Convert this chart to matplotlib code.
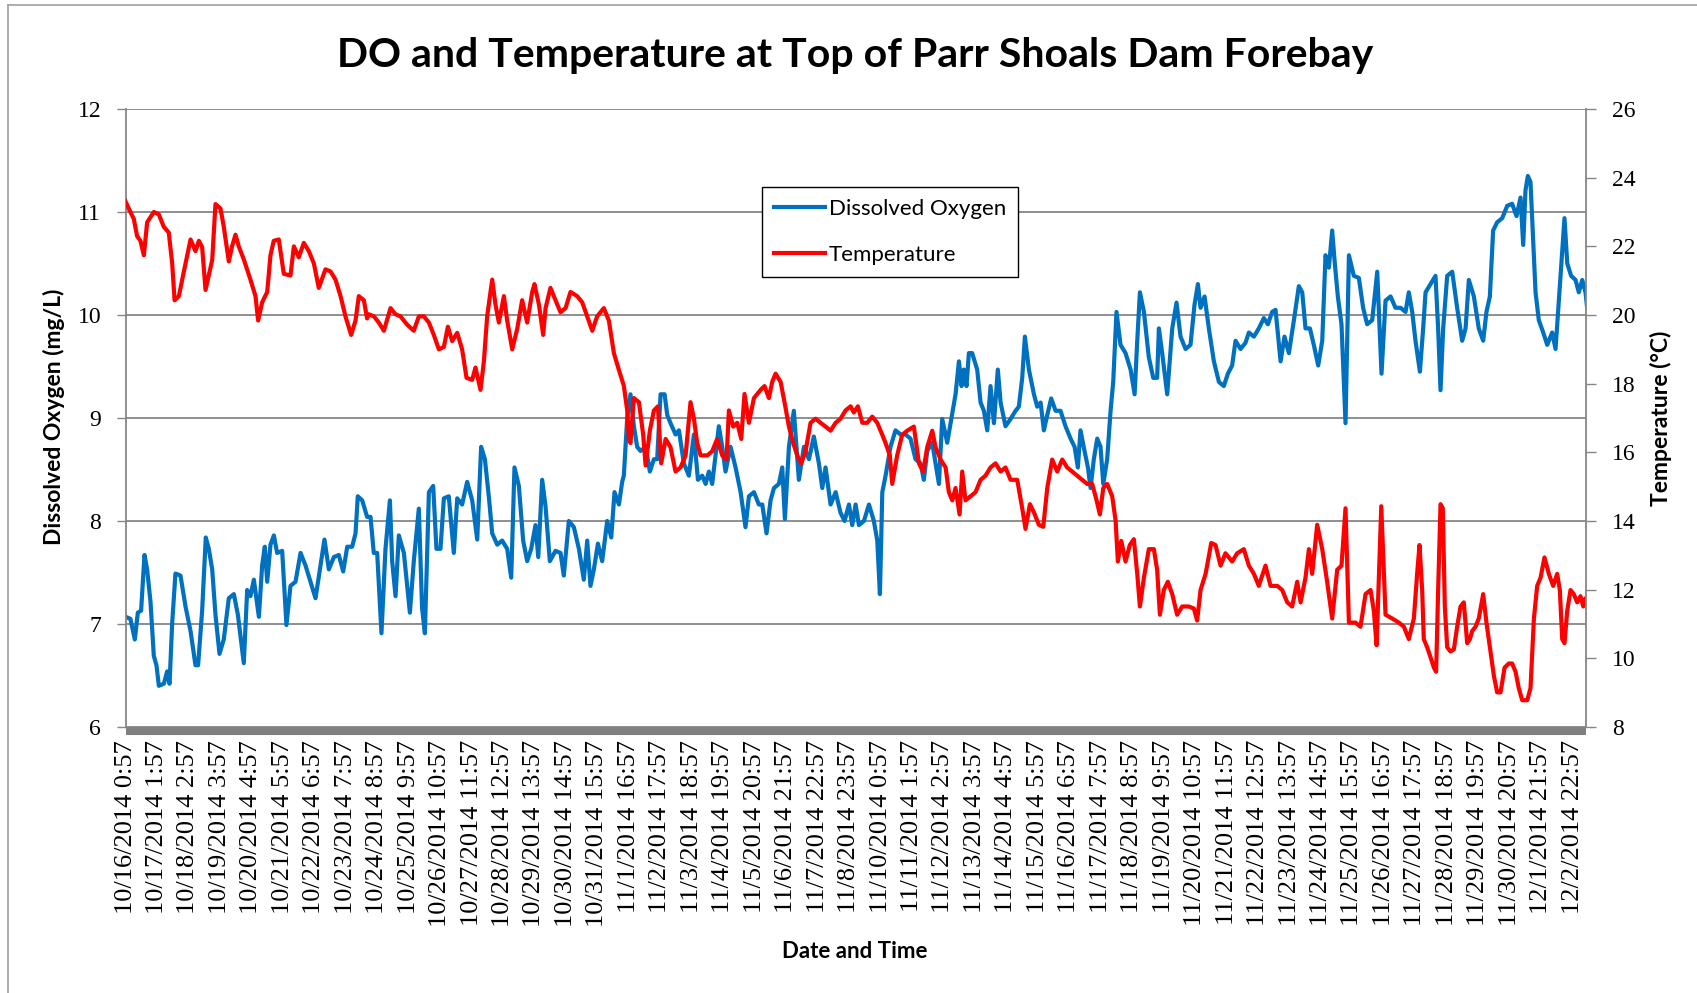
# %%
# ---------------------------------------------------------
# DO and temperature, Parr Shoals Dam forebay (hourly logger)
# ---------------------------------------------------------
import numpy as np
import matplotlib
matplotlib.use("Agg")
import matplotlib.pyplot as plt
from matplotlib.lines import Line2D

# %%
# ---------------------------------------------------------
# Values (x = hours since 10/16/2014 0:57)
# ---------------------------------------------------------
do_hours = [
    0, 3.9, 7.4, 9.8, 12.4, 15.1, 17.2, 19.9, 22.5, 24.6, 26.5, 30.5, 33.1, 35.0, 37.1,
    39.7, 43.7, 47.7, 51.7, 55.6, 57.7, 60.9, 63.8, 66.2, 68.9, 71.5, 74.7, 78.1, 82.1, 86.1,
    89.3, 94.0, 96.7, 99.3, 102.0, 106.0, 108.6, 110.7, 112.6, 115.2, 117.9, 120.5, 124.5, 127.9, 131.1,
    135.1, 139.1, 143.0, 147.0, 151.0, 155.0, 158.1, 161.6, 165.6, 169.5, 173.0, 176.2, 180.1, 182.8, 184.6,
    188.1, 192.0,
    194.7, 197.3, 200.0, 203.4, 206.6, 210.1, 211.9, 214.6, 217.2, 221.2, 226.0, 229.1, 233.1, 235.7, 237.9,
    241.1, 244.5, 247.1, 250.3, 253.0, 256.9, 260.9, 263.6, 267.5, 271.5, 275.5, 279.5, 282.6, 285.6, 288.7,
    291.4, 295.4, 299.3, 303.3, 306.5, 309.1, 312.6, 316.0, 319.2, 322.4, 325.8, 328.0, 331.1, 333.8, 337.2,
    341.7, 345.7, 348.3, 352.3, 356.3, 360.3, 364.2, 366.9, 369.5, 372.2, 375.4, 378.8, 382.8, 386.0, 388.6,
    392.1, 394.7, 396.0, 398.7,
    401.3, 404.0, 406.6, 409.3, 413.3, 416.7, 419.9, 422.5, 425.2, 428.4, 430.5, 433.1, 437.1, 439.8, 443.7,
    447.7, 451.7, 454.9, 458.3, 461.0, 463.6, 466.2, 468.9, 471.5, 474.2, 476.8, 480.8, 484.8, 488.8, 492.7,
    495.4, 499.4, 503.3, 506.0, 509.4, 512.6, 515.3, 519.2, 521.9, 524.0, 527.2, 531.1, 535.1, 539.1, 543.1,
    547.0, 551.0, 553.7, 556.3, 560.3, 564.3, 568.2, 571.4, 574.9, 577.5, 580.2, 582.8, 586.8, 590.8, 594.7,
    597.4, 599.5, 601.4, 604.0,
    607.9, 611.9, 615.9, 619.9, 623.8, 627.8, 631.8, 634.4, 637.1, 641.1, 643.7, 646.4, 649.0, 653.0, 656.2,
    659.6, 662.3, 664.4, 666.2, 668.3, 670.2, 672.8, 676.8, 679.5, 682.1, 684.8, 687.4, 690.1, 693.2, 695.4,
    699.3, 703.3, 707.3, 709.9, 712.6, 714.7, 717.9, 721.9, 724.5, 727.2, 729.8, 732.5, 735.6, 739.1, 743.0,
    747.0, 751.0, 754.2, 756.8, 758.9, 762.1, 764.8, 766.9, 769.5, 772.2, 774.8, 777.0, 780.1, 782.8, 784.9,
    787.5, 790.7, 794.7, 798.7, 801.9, 804.0, 806.1, 809.3, 813.2,
    816.7, 819.8, 821.2, 823.8, 827.8, 831.8, 835.2, 838.4, 842.4, 846.3, 849.5, 852.2, 854.3, 857.5, 860.9,
    864.9, 868.9, 872.8, 876.0, 879.4, 882.1, 886.1, 890.0, 892.7, 896.7, 900.6, 904.6, 907.8, 911.2, 913.9,
    917.9, 921.0, 924.5, 928.5, 932.4, 935.1, 937.7, 941.2, 944.3, 947.8, 951.0, 953.6, 956.3, 958.9, 961.0,
    963.4, 966.3, 969.5, 972.2, 976.1, 980.1, 983.5, 986.7, 990.7, 994.7, 998.1, 1001.3, 1005.3, 1009.2, 1013.2,
    1017.2, 1019.8,
    1022.5, 1025.1, 1028.6, 1031.2, 1033.1, 1037.0, 1041.0, 1043.1, 1045.0, 1047.1, 1050.3, 1054.3, 1058.2, 1062.2, 1064.9,
    1067.5, 1071.5, 1075.4, 1078.9, 1081.5, 1084.2, 1086.8, 1090.0, 1094.0, 1098.0, 1101.9, 1105.4, 1108.6, 1110.7, 1112.5,
    1114.4, 1116.5, 1118.4, 1120.5, 1123.1, 1126.6, 1129.8, 1133.7, 1136.4, 1140.4, 1143.5, 1145.7, 1148.8, 1152.3, 1154.9,
    1157.6, 1160.2, 1161.5,
]
do_mgl = [
    7.07, 7.05, 6.85, 7.11, 7.13, 7.67, 7.53, 7.21, 6.69, 6.60, 6.40, 6.42, 6.54, 6.42, 7.01,
    7.49, 7.47, 7.17, 6.93, 6.60, 6.60, 7.13, 7.84, 7.73, 7.53, 7.09, 6.71, 6.85, 7.25, 7.29,
    7.09, 6.62, 7.33, 7.27, 7.43, 7.07, 7.57, 7.75, 7.41, 7.77, 7.86, 7.69, 7.71, 6.99, 7.37,
    7.41, 7.69, 7.57, 7.41, 7.25, 7.57, 7.82, 7.53, 7.65, 7.67, 7.51, 7.75, 7.75, 7.88, 8.24,
    8.20, 8.04,
    8.04, 7.69, 7.69, 6.91, 7.73, 8.20, 7.61, 7.27, 7.86, 7.69, 7.11, 7.61, 8.12, 7.15, 6.91,
    8.28, 8.34, 7.73, 7.73, 8.22, 8.24, 7.69, 8.22, 8.16, 8.38, 8.20, 7.82, 8.72, 8.60, 8.24,
    7.88, 7.77, 7.81, 7.73, 7.45, 8.52, 8.34, 7.81, 7.61, 7.73, 7.96, 7.65, 8.40, 8.14, 7.61,
    7.71, 7.69, 7.47, 8.00, 7.94, 7.73, 7.43, 7.81, 7.37, 7.53, 7.78, 7.61, 8.00, 7.84, 8.28,
    8.16, 8.38, 8.44, 9.00,
    9.23, 8.92, 8.72, 8.68, 8.72, 8.48, 8.60, 8.60, 9.23, 9.23, 9.03, 8.95, 8.84, 8.88, 8.56,
    8.44, 8.84, 8.40, 8.44, 8.36, 8.48, 8.36, 8.64, 8.92, 8.72, 8.48, 8.72, 8.52, 8.28, 7.94,
    8.24, 8.28, 8.16, 8.16, 7.88, 8.20, 8.32, 8.36, 8.52, 8.02, 8.72, 9.07, 8.40, 8.72, 8.60,
    8.82, 8.56, 8.32, 8.52, 8.16, 8.28, 8.08, 8.00, 8.16, 7.96, 8.16, 7.96, 8.00, 8.16, 8.00,
    7.81, 7.29, 8.28, 8.44,
    8.72, 8.88, 8.84, 8.84, 8.80, 8.60, 8.56, 8.40, 8.68, 8.76, 8.56, 8.36, 8.99, 8.76, 8.99,
    9.23, 9.55, 9.31, 9.47, 9.31, 9.63, 9.63, 9.47, 9.15, 9.07, 8.88, 9.31, 8.95, 9.47, 9.15,
    8.92, 8.99, 9.07, 9.11, 9.39, 9.79, 9.47, 9.23, 9.11, 9.15, 8.88, 9.03, 9.19, 9.07, 9.07,
    8.92, 8.80, 8.72, 8.52, 8.88, 8.68, 8.52, 8.32, 8.60, 8.80, 8.72, 8.36, 8.60, 9.07, 9.35,
    10.03, 9.71, 9.63, 9.47, 9.23, 9.75, 10.22, 10.03, 9.59,
    9.39, 9.39, 9.87, 9.63, 9.23, 9.87, 10.12, 9.79, 9.67, 9.71, 10.10, 10.30, 10.07, 10.18, 9.87,
    9.55, 9.35, 9.31, 9.43, 9.51, 9.75, 9.67, 9.73, 9.83, 9.79, 9.87, 9.97, 9.91, 10.03, 10.05,
    9.55, 9.79, 9.63, 9.95, 10.28, 10.22, 9.87, 9.87, 9.71, 9.51, 9.75, 10.58, 10.46, 10.82, 10.50,
    10.18, 9.91, 8.95, 10.58, 10.38, 10.36, 10.07, 9.91, 9.95, 10.42, 9.43, 10.14, 10.18, 10.07, 10.07,
    10.03, 10.22,
    10.03, 9.75, 9.45, 9.87, 10.22, 10.30, 10.38, 9.87, 9.27, 9.87, 10.38, 10.42, 10.07, 9.75, 9.87,
    10.34, 10.18, 9.87, 9.75, 10.03, 10.18, 10.82, 10.90, 10.94, 11.06, 11.08, 10.96, 11.14, 10.68, 11.21,
    11.35, 11.29, 10.78, 10.22, 9.95, 9.83, 9.71, 9.83, 9.67, 10.38, 10.94, 10.50, 10.38, 10.34, 10.22,
    10.34, 10.22, 10.07,
]

temp_hours = [
    0, 3.9, 6.6, 9.2, 11.9, 14.6, 17.2, 22.5, 26.5, 30.4, 34.4, 37.1, 39.0, 42.4, 46.4,
    51.7, 55.6, 58.3, 60.9, 63.6, 66.2, 68.9, 71.5, 75.5, 78.1, 82.1, 84.7, 87.4, 90.0, 94.0,
    99.3, 103.3, 105.4, 108.6, 112.6, 115.2, 117.8, 121.8, 125.8, 131.1, 133.8, 137.7, 141.7, 145.7, 149.7,
    153.6, 158.9, 162.9, 166.9, 170.9, 174.8, 179.3, 182.8, 185.4, 189.4, 192.0,
    193.4, 197.4, 201.3, 205.3, 210.6, 214.6, 218.5, 223.8, 229.1, 233.1, 237.1, 241.1, 245.0, 249.0, 253.0,
    256.2, 259.6, 263.6, 267.5, 271.0, 275.5, 278.1, 282.1, 284.8, 287.4, 291.4, 294.0, 296.7, 300.7, 303.3,
    307.3, 311.3, 315.2, 319.2, 323.2, 325.0, 328.5, 331.9, 333.8, 337.7, 341.7, 345.7, 349.7, 353.6, 358.9,
    362.9, 366.9, 370.9, 374.8, 380.1, 384.1, 388.1, 392.0, 396.0, 398.7, 400.0,
    401.3, 404.0, 408.0, 411.4, 413.3, 416.7, 419.9, 423.1, 425.7, 429.2, 433.1, 437.1, 441.1, 445.1, 449.0,
    451.7, 454.3, 457.0, 462.3, 466.2, 470.2, 474.2, 477.6, 479.5, 482.9, 486.1, 489.3, 491.9, 495.4, 499.4,
    502.0, 504.7, 507.8, 511.3, 513.9, 516.6, 520.6, 523.7, 527.2, 530.6, 533.8, 537.0, 540.4, 544.4, 548.4,
    552.3, 556.3, 560.3, 564.3, 568.2, 572.2, 576.2, 578.8, 582.0, 585.5, 589.4, 593.4, 597.4, 601.4, 604.0,
    607.4,
    609.3, 613.2, 617.2, 621.2, 626.5, 630.5, 633.9, 637.1, 641.1, 643.7, 647.7, 651.7, 654.3, 657.0, 659.6,
    662.8, 664.9, 667.5, 671.5, 675.5, 679.5, 683.4, 687.4, 691.4, 695.4, 699.3, 703.3, 708.6, 712.6, 715.2,
    718.7, 721.9, 725.8, 729.3, 732.5, 736.4, 740.4, 744.4, 748.3, 752.3, 756.3, 760.3, 764.2, 768.2, 771.7,
    774.3, 777.0, 780.1, 784.1, 786.8, 788.6, 791.3, 794.7, 798.1, 801.3, 804.0, 806.1, 809.3, 813.2,
    817.2, 819.8, 822.0, 825.1, 828.3, 831.8, 835.7, 839.7, 845.0, 849.0, 851.6, 854.3, 858.3, 862.8, 866.2,
    870.2, 874.1, 879.4, 883.4, 888.7, 892.7, 896.7, 900.6, 905.9, 909.9, 915.2, 919.2, 923.2, 927.1, 931.1,
    933.8, 937.7, 940.4, 943.0, 947.0, 951.0, 954.9, 958.9, 962.9, 966.3, 969.5, 972.2, 977.5, 981.4, 985.4,
    989.4, 992.0, 994.2, 997.9, 1001.3, 1006.6, 1011.9, 1015.9, 1019.8,
    1023.8, 1026.4, 1028.3, 1030.4, 1031.7, 1034.4, 1037.6, 1039.7, 1041.5, 1043.1, 1045.0, 1046.8, 1048.4, 1050.3, 1052.9,
    1055.6, 1058.2, 1060.9, 1063.5, 1066.2, 1068.3, 1070.2, 1072.8, 1075.4, 1078.9, 1081.5, 1084.7, 1087.4, 1090.0, 1092.7,
    1095.9, 1099.3, 1101.9, 1104.6, 1107.2, 1109.9, 1113.9, 1116.5, 1119.2, 1121.8, 1124.5, 1127.6, 1131.1, 1134.5, 1137.7,
    1139.8, 1141.7, 1143.5, 1145.7, 1148.3, 1150.9, 1153.6, 1156.2, 1158.4, 1160.2, 1161.5,
]
temp_c = [
    23.31, 23.00, 22.80, 22.30, 22.16, 21.74, 22.70, 23.00, 22.93, 22.57, 22.40, 21.50, 20.43, 20.55, 21.27,
    22.20, 21.86, 22.16, 21.98, 20.73, 21.15, 21.60, 23.23, 23.10, 22.57, 21.56, 22.00, 22.34, 22.00, 21.62,
    21.03, 20.55, 19.84, 20.37, 20.67, 21.74, 22.16, 22.20, 21.20, 21.15, 22.00, 21.68, 22.10, 21.86, 21.50,
    20.79, 21.33, 21.27, 21.03, 20.55, 19.96, 19.42, 19.84, 20.55, 20.43, 19.90,
    20.02, 19.96, 19.78, 19.54, 20.20, 20.02, 19.96, 19.72, 19.54, 19.96, 19.96, 19.78, 19.42, 19.00, 19.07,
    19.66, 19.24, 19.48, 19.00, 18.17, 18.11, 18.47, 17.82, 18.65, 19.96, 21.03, 20.31, 19.78, 20.55, 19.84,
    19.00, 19.60, 20.43, 19.78, 20.67, 20.90, 20.31, 19.42, 20.20, 20.79, 20.43, 20.08, 20.20, 20.67, 20.55,
    20.37, 19.96, 19.54, 19.96, 20.20, 19.84, 18.89, 18.41, 17.94, 17.22, 16.39,
    16.27, 17.58, 17.46, 16.51, 15.62, 16.63, 17.22, 17.34, 15.68, 16.39, 16.15, 15.44, 15.56, 15.91, 17.46,
    16.98, 16.27, 15.91, 15.91, 16.03, 16.39, 15.91, 15.79, 17.22, 16.75, 16.86, 16.39, 17.70, 16.86, 17.58,
    17.70, 17.82, 17.93, 17.58, 18.05, 18.29, 18.05, 17.46, 16.75, 16.27, 15.91, 15.68, 16.03, 16.86, 16.98,
    16.86, 16.75, 16.63, 16.86, 16.98, 17.22, 17.34, 17.16, 17.34, 16.86, 16.86, 17.04, 16.86, 16.51, 16.27,
    15.91,
    15.08, 15.91, 16.51, 16.63, 16.75, 15.68, 15.44, 16.15, 16.63, 16.15, 15.79, 15.56, 14.84, 14.60, 14.96,
    14.19, 15.44, 14.60, 14.72, 14.84, 15.20, 15.32, 15.56, 15.68, 15.44, 15.56, 15.20, 15.20, 14.37, 13.77,
    14.49, 14.25, 13.89, 13.83, 14.96, 15.79, 15.44, 15.79, 15.56, 15.44, 15.32, 15.20, 15.08, 15.08, 14.60,
    14.19, 14.96, 15.08, 14.72, 14.01, 12.82, 13.42, 12.82, 13.30, 13.47, 12.46, 11.51, 12.35, 13.18,
    13.18, 12.58, 11.27, 11.99, 12.23, 11.87, 11.27, 11.51, 11.51, 11.45, 11.10, 11.99, 12.46, 13.36, 13.30,
    12.70, 13.06, 12.82, 13.06, 13.18, 12.70, 12.46, 12.11, 12.70, 12.11, 12.11, 11.99, 11.63, 11.51, 12.23,
    11.63, 12.35, 13.18, 12.46, 13.89, 13.18, 12.23, 11.16, 12.58, 12.70, 14.37, 11.04, 11.04, 10.92, 11.87,
    11.99, 11.39, 10.38, 14.43, 11.27, 11.16, 11.04, 10.92, 10.56,
    11.16, 12.46, 13.30, 11.99, 10.56, 10.32, 9.97, 9.73, 9.61, 11.99, 14.49, 14.37, 11.51, 10.32, 10.20,
    10.26, 10.92, 11.51, 11.63, 10.44, 10.56, 10.80, 10.92, 11.16, 11.87, 11.04, 10.20, 9.49, 9.01, 9.01,
    9.73, 9.85, 9.85, 9.61, 9.13, 8.78, 8.78, 9.13, 11.16, 12.11, 12.35, 12.94, 12.46, 12.11, 12.46,
    11.99, 10.56, 10.44, 11.39, 11.99, 11.87, 11.63, 11.81, 11.51, 11.75, 11.51,
]

# category axis: one label every 25 readings
tick_labels = [
    "10/16/2014 0:57", "10/17/2014 1:57", "10/18/2014 2:57", "10/19/2014 3:57",
    "10/20/2014 4:57", "10/21/2014 5:57", "10/22/2014 6:57", "10/23/2014 7:57",
    "10/24/2014 8:57", "10/25/2014 9:57", "10/26/2014 10:57", "10/27/2014 11:57",
    "10/28/2014 12:57", "10/29/2014 13:57", "10/30/2014 14:57", "10/31/2014 15:57",
    "11/1/2014 16:57", "11/2/2014 17:57", "11/3/2014 18:57", "11/4/2014 19:57",
    "11/5/2014 20:57", "11/6/2014 21:57", "11/7/2014 22:57", "11/8/2014 23:57",
    "11/10/2014 0:57", "11/11/2014 1:57", "11/12/2014 2:57", "11/13/2014 3:57",
    "11/14/2014 4:57", "11/15/2014 5:57", "11/16/2014 6:57", "11/17/2014 7:57",
    "11/18/2014 8:57", "11/19/2014 9:57", "11/20/2014 10:57", "11/21/2014 11:57",
    "11/22/2014 12:57", "11/23/2014 13:57", "11/24/2014 14:57", "11/25/2014 15:57",
    "11/26/2014 16:57", "11/27/2014 17:57", "11/28/2014 18:57", "11/29/2014 19:57",
    "11/30/2014 20:57", "12/1/2014 21:57", "12/2/2014 22:57",
]
tick_hours = np.arange(len(tick_labels)) * 25

assert len(do_hours) == len(do_mgl)
assert len(temp_hours) == len(temp_c)

# %%
# ---------------------------------------------------------
# Plot
# ---------------------------------------------------------
plt.rcParams["font.family"] = ["Liberation Serif", "DejaVu Serif"]
sans = ["Lato", "DejaVu Sans"]
grey = "#868686"

W, H = 1697, 993
fig = plt.figure(figsize=(W / 100, H / 100), dpi=100)
ax = fig.add_axes([125.5 / W, 1 - 727 / H, (1586 - 125.5) / W, (727 - 109) / H])
ax2 = ax.twinx()

# spines first: moving a spine rebuilds its ticks
ax.spines["top"].set_visible(False)
ax.spines["right"].set_visible(False)
for s in ["top", "left", "bottom"]:
    ax2.spines[s].set_visible(False)
ax.spines["left"].set_color(grey)
ax.spines["left"].set_linewidth(1.3)
ax2.spines["right"].set_color(grey)
ax2.spines["right"].set_linewidth(1.3)
ax.spines["bottom"].set_color("#808080")
ax.spines["bottom"].set_linewidth(5.8)
ax.spines["bottom"].set_capstyle("butt")
ax.spines["bottom"].set_position(("outward", 2.9))

ax.plot(do_hours, do_mgl, color="#0070C0", lw=3.0, label="Dissolved Oxygen")
ax2.plot(temp_hours, temp_c, color="#FF0000", lw=3.0, label="Temperature")

ax.set_xlim(0, 1160.6)
ax.set_ylim(6, 12)
ax2.set_ylim(8, 26)
ax.set_yticks(np.arange(6, 13))
ax2.set_yticks(np.arange(8, 27, 2))
ax.set_xticks(tick_hours)
ax.set_xticklabels(tick_labels)

ax.yaxis.grid(True, color=grey, lw=1.3)
ax.set_axisbelow(True)

ax.tick_params(axis="x", length=0, pad=6.5, labelrotation=90, labelsize=19)
ax.tick_params(axis="y", direction="out", length=6.5, width=1, color=grey, pad=11, labelsize=17)
ax2.tick_params(axis="y", direction="out", length=7, width=1, color=grey, pad=12, labelsize=17)

handles = ax.get_lines() + ax2.get_lines()
leg = ax2.legend(handles, [h.get_label() for h in handles], loc="upper left",
                 bbox_to_anchor=(762 / W, 1 - 187 / H), bbox_transform=fig.transFigure,
                 prop={"family": sans, "size": 16}, frameon=True, fancybox=False,
                 framealpha=1, edgecolor="black", borderpad=0.55, handlelength=2.3,
                 handletextpad=0.15, labelspacing=1.15, borderaxespad=0)
leg.get_frame().set_linewidth(1.0)

fig.text(855 / W, 1 - 55 / H, "DO and Temperature at Top of Parr Shoals Dam Forebay",
         ha="center", va="center", fontsize=29.5, fontweight="bold", family=sans)
fig.text(855 / W, 1 - 951 / H, "Date and Time", ha="center", va="center",
         fontsize=16, fontweight="bold", family=sans)
fig.text(54 / W, 1 - 417 / H, "Dissolved Oxygen (mg/L)", ha="center", va="center",
         rotation=90, fontsize=16.5, fontweight="bold", family=sans)
fig.text(1661 / W, 1 - 418 / H, "Temperature (°C)", ha="center", va="center",
         rotation=90, fontsize=16.5, fontweight="bold", family=sans)

# outer chart-area border (left and top edges visible)
fig.add_artist(Line2D([8 / W, 8 / W], [0, 1 - 5 / H], transform=fig.transFigure, color="#a0a0a0", lw=1.2))
fig.add_artist(Line2D([8 / W, 1], [1 - 5 / H, 1 - 5 / H], transform=fig.transFigure, color="#a0a0a0", lw=1.2))

fig.savefig("out.png", dpi=100)
